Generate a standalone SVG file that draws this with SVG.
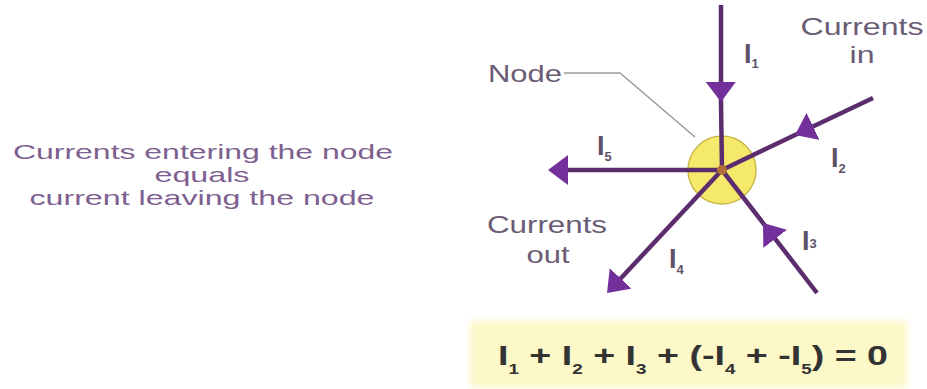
<svg xmlns="http://www.w3.org/2000/svg" width="927" height="389" viewBox="0 0 927 389">
  <style>
    .wire { fill: none; stroke: #5c2d6e; stroke-width: 4.5; }
    .lbl { font-family: "Liberation Sans", Arial, sans-serif; font-weight: bold; font-size: 27px; fill: #5f5268; }
    .cap { font-family: "Liberation Sans", Arial, sans-serif; font-size: 24px; fill: #6a5c74; }
    .note { font-family: "Liberation Sans", Arial, sans-serif; font-size: 21px; fill: #7e6090; }
    .eq { font-family: "Liberation Sans", Arial, sans-serif; font-weight: bold; font-size: 28px; fill: #333333; }
  </style>
  <defs>
    <marker id="headMid" markerUnits="userSpaceOnUse" viewBox="0 0 22 30" markerWidth="22" markerHeight="30" refX="20" refY="15" orient="auto">
      <path d="M0,0 L20,15 L0,30 Z" fill="#74309a"/>
    </marker>
    <marker id="headEnd" markerUnits="userSpaceOnUse" viewBox="0 0 22 30" markerWidth="22" markerHeight="30" refX="12" refY="15" orient="auto">
      <path d="M0,0 L20,15 L0,30 Z" fill="#74309a"/>
    </marker>
    <filter id="soft" x="-5%" y="-20%" width="110%" height="140%">
      <feGaussianBlur stdDeviation="3"/>
    </filter>
  </defs>
  <rect width="927" height="389" fill="#ffffff"/>

  <g id="statement">
    <text class="note" x="203" y="159" text-anchor="middle" textLength="380" lengthAdjust="spacingAndGlyphs">Currents entering the node</text>
    <text class="note" x="202" y="182" text-anchor="middle" textLength="95" lengthAdjust="spacingAndGlyphs">equals</text>
    <text class="note" x="202" y="205" text-anchor="middle" textLength="345" lengthAdjust="spacingAndGlyphs">current leaving the node</text>
  </g>

  <g id="node">
    <circle cx="722" cy="170" r="34" fill="#f4e96a" stroke="#c9b94d" stroke-width="1.5"/>
  </g>

  <g id="node-label">
    <polyline points="564,73 620,73 695,137" fill="none" stroke="#9a9a9a" stroke-width="1.5"/>
    <text class="cap" x="488" y="82" textLength="74" lengthAdjust="spacingAndGlyphs">Node</text>
  </g>

  <g id="connectors">
    <path class="wire" d="M721,5 L721,102 L722,170" marker-mid="url(#headMid)"/>
    <path class="wire" d="M873,98 L795,135 L722,170" marker-mid="url(#headMid)"/>
    <path class="wire" d="M817,293 L763,223 L722,170" marker-mid="url(#headMid)"/>
    <path class="wire" d="M722,170 L556,170" marker-end="url(#headEnd)"/>
    <path class="wire" d="M722,170 L612.5,287.2" marker-end="url(#headEnd)"/>
  </g>

  <g id="junction">
    <circle cx="722" cy="170" r="5" fill="#b0703a"/>
  </g>

  <g id="labels">
    <text class="lbl" x="744" y="63">I<tspan font-size="13" dy="5">1</tspan></text>
    <text class="lbl" x="831" y="167">I<tspan font-size="13" dy="6">2</tspan></text>
    <text class="lbl" x="802" y="250">I<tspan font-size="13" dy="-2">3</tspan></text>
    <text class="lbl" x="669" y="268">I<tspan font-size="13" dy="6">4</tspan></text>
    <text class="lbl" x="597" y="155">I<tspan font-size="13" dy="6">5</tspan></text>
  </g>

  <g id="currents-in">
    <text class="cap" x="862" y="35" text-anchor="middle" textLength="123" lengthAdjust="spacingAndGlyphs">Currents</text>
    <text class="cap" x="862" y="63" text-anchor="middle" textLength="25" lengthAdjust="spacingAndGlyphs">in</text>
  </g>

  <g id="currents-out">
    <text class="cap" x="547" y="233" text-anchor="middle" textLength="120" lengthAdjust="spacingAndGlyphs">Currents</text>
    <text class="cap" x="548" y="263" text-anchor="middle" textLength="43" lengthAdjust="spacingAndGlyphs">out</text>
  </g>

  <g id="equation">
    <rect x="470" y="321" width="437" height="66" fill="#fcf8c8" filter="url(#soft)"/>
    <text class="eq" x="498" y="365" textLength="390" lengthAdjust="spacingAndGlyphs">I<tspan font-size="14" dy="9">1</tspan><tspan dy="-9"> + I</tspan><tspan font-size="14" dy="9">2</tspan><tspan dy="-9"> + I</tspan><tspan font-size="14" dy="9">3</tspan><tspan dy="-9"> + (-I</tspan><tspan font-size="14" dy="9">4</tspan><tspan dy="-9"> + -I</tspan><tspan font-size="14" dy="9">5</tspan><tspan dy="-9">) = 0</tspan></text>
  </g>
</svg>
